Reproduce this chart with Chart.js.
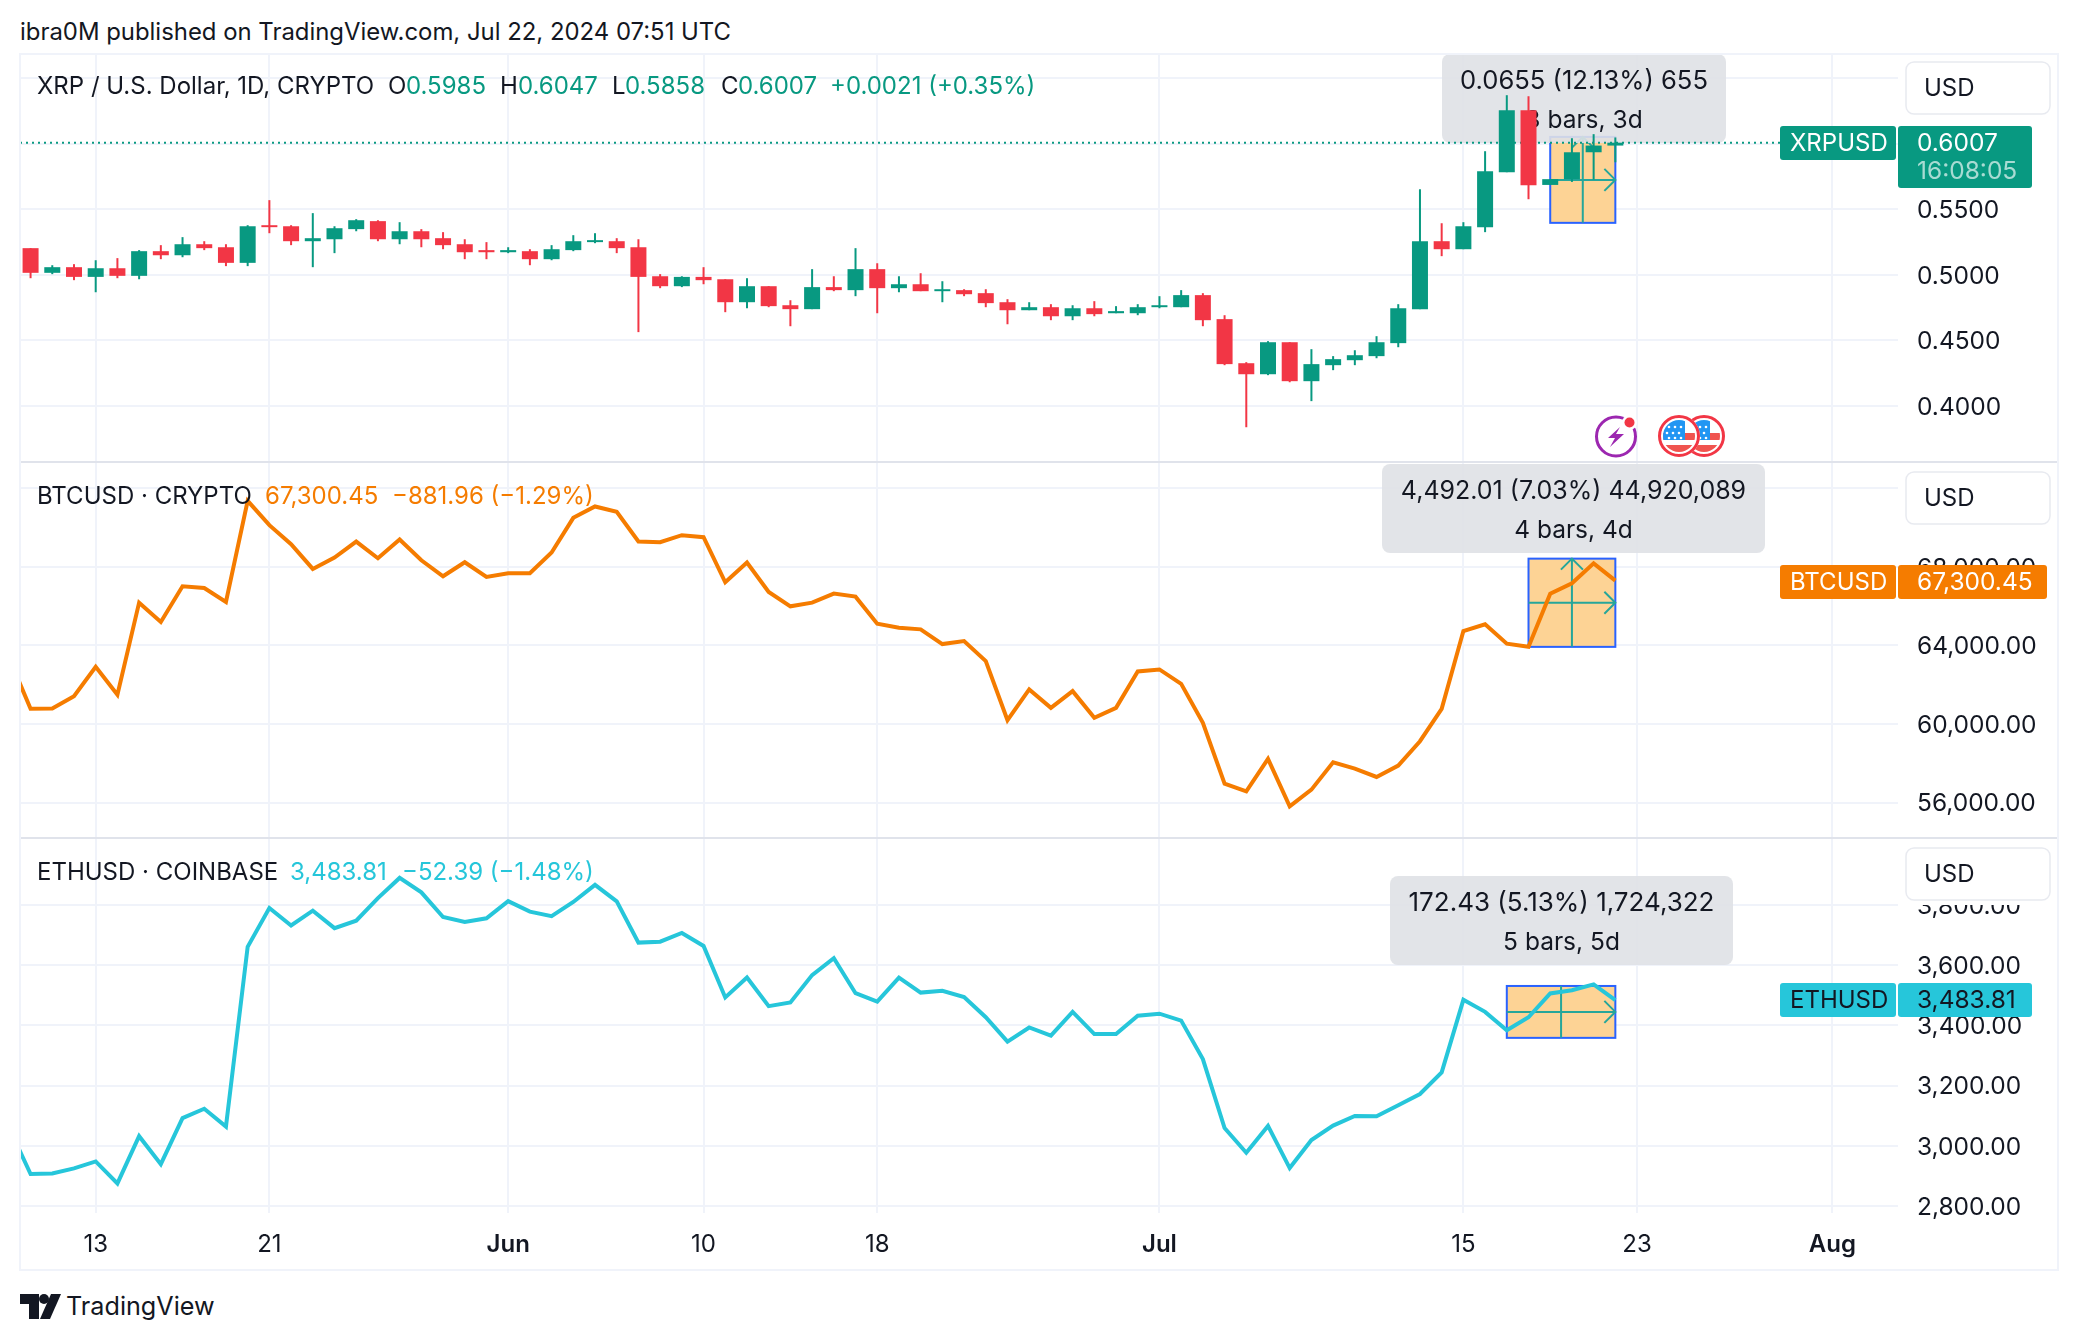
<!DOCTYPE html>
<html>
<head>
<meta charset="utf-8">
<title>XRP / BTC / ETH</title>
<script src="https://cdn.jsdelivr.net/npm/chart.js@4"></script>
<style>
  html, body { margin: 0; background: #fff; }
  body { width: 2078px; height: 1340px; position: relative; overflow: hidden; font-family: Inter, sans-serif; color: #131722; }
  canvas { position: absolute; left: 20px; }
  .line { position: absolute; }
  #head { position: absolute; left: 20px; top: 17px; font-size: 23.9px; line-height: 30px; white-space: nowrap; }
  #brand { position: absolute; left: 66px; top: 1291px; font-size: 25.2px; line-height: 30px; white-space: nowrap; }
  #logo { position: absolute; left: 20px; top: 1294px; }
</style>
</head>
<body>
<div id="head">ibra0M published on TradingView.com, Jul 22, 2024 07:51 UTC</div>
<canvas id="xrpChart" width="2038" height="408" style="top:54px"></canvas>
<canvas id="btcChart" width="2038" height="376" style="top:462px"></canvas>
<canvas id="ethChart" width="2038" height="432" style="top:838px"></canvas>
<div class="line" style="left:20px;top:53px;width:2038px;height:2px;background:#f0f3fa"></div>
<div class="line" style="left:20px;top:461px;width:2038px;height:2px;background:#e0e3eb"></div>
<div class="line" style="left:20px;top:837px;width:2038px;height:2px;background:#e0e3eb"></div>
<div class="line" style="left:20px;top:1269px;width:2038px;height:2px;background:#f0f3fa"></div>
<div class="line" style="left:19px;top:53px;width:2px;height:1218px;background:#f0f3fa"></div>
<div class="line" style="left:2057px;top:53px;width:2px;height:1218px;background:#f0f3fa"></div>
<svg id="logo" width="42" height="26" viewBox="0 0 42 26">
  <path d="M0 0H19V25H9V10H0Z" fill="#131722"/>
  <circle cx="24" cy="5" r="5" fill="#131722"/>
  <path d="M31 0H41L30 25H20Z" fill="#131722"/>
</svg>
<div id="brand">TradingView</div>
<script>
var dates = ["May 9","May 10","May 11","May 12","May 13","May 14","May 15","May 16","May 17","May 18","May 19","May 20","May 21","May 22","May 23","May 24","May 25","May 26","May 27","May 28","May 29","May 30","May 31",
  "Jun 1","Jun 2","Jun 3","Jun 4","Jun 5","Jun 6","Jun 7","Jun 8","Jun 9","Jun 10","Jun 11","Jun 12","Jun 13","Jun 14","Jun 15","Jun 16","Jun 17","Jun 18","Jun 19","Jun 20","Jun 21","Jun 22","Jun 23","Jun 24","Jun 25","Jun 26","Jun 27","Jun 28","Jun 29","Jun 30",
  "Jul 1","Jul 2","Jul 3","Jul 4","Jul 5","Jul 6","Jul 7","Jul 8","Jul 9","Jul 10","Jul 11","Jul 12","Jul 13","Jul 14","Jul 15","Jul 16","Jul 17","Jul 18","Jul 19","Jul 20","Jul 21","Jul 22"];

// XRP candles start one day later than the two line series
var xrpOpen = [.5203,.5015,.5058,.4984,.5050,.4992,.5180,.5149,.5233,.5210,.5091,.5378,.5370,.5256,.5271,.5348,.5409,.5271,.5332,.5279,.5233,.5188,
  .5172,.5180,.5119,.5188,.5249,.5256,.5210,.4989,.4913,.4984,.4966,.4791,.4913,.4768,.4738,.4906,.4883,.5043,.4898,.4928,.4875,.4883,.4860,.4791,.4730,.4753,.4684,.4745,.4707,.4707,
  .4753,.4753,.4845,.4662,.4326,.4242,.4486,.4189,.4311,.4349,.4380,.4479,.4738,.5256,.5195,.5363,.5782,.6255,.5685,.5729,.5934,.5985];
var xrpHigh = [.5203,.5073,.5081,.5111,.5127,.5188,.5226,.5287,.5256,.5233,.5378,.5569,.5378,.5470,.5370,.5424,.5416,.5401,.5348,.5325,.5271,.5249,
  .5210,.5195,.5226,.5302,.5317,.5279,.5271,.5005,.4989,.5058,.4966,.4974,.4913,.4806,.5043,.4989,.5203,.5088,.4989,.5012,.4951,.4890,.4890,.4814,.4791,.4776,.4768,.4799,.4761,.4776,
  .4837,.4883,.4860,.4692,.4334,.4494,.4486,.4433,.4380,.4425,.4532,.4776,.5652,.5393,.5401,.5942,.6369,.6361,.5729,.6041,.6072,.6047];
var xrpLow = [.4974,.5005,.4959,.4867,.4974,.4966,.5119,.5134,.5188,.5066,.5066,.5317,.5226,.5058,.5165,.5332,.5256,.5233,.5210,.5195,.5119,.5119,
  .5165,.5073,.5111,.5180,.5241,.5165,.4563,.4898,.4906,.4928,.4715,.4745,.4753,.4608,.4738,.4875,.4837,.4707,.4867,.4875,.4791,.4837,.4753,.4623,.4730,.4654,.4654,.4684,.4707,.4692,
  .4745,.4753,.4608,.4311,.3838,.4235,.4181,.4037,.4273,.4311,.4364,.4448,.4738,.5142,.5195,.5325,.5782,.5576,.5685,.5708,.5726,.5858];
var xrpClose = [.5015,.5058,.4984,.5050,.4992,.5180,.5149,.5233,.5203,.5091,.5370,.5363,.5256,.5279,.5355,.5416,.5271,.5332,.5271,.5226,.5172,.5172,
  .5188,.5119,.5195,.5256,.5264,.5203,.4984,.4913,.4984,.4959,.4791,.4913,.4761,.4738,.4906,.4883,.5043,.4898,.4928,.4875,.4890,.4852,.4784,.4730,.4753,.4684,.4745,.4700,.4723,.4753,
  .4768,.4845,.4654,.4319,.4242,.4486,.4189,.4319,.4357,.4387,.4486,.4745,.5256,.5195,.5370,.5790,.6255,.5683,.5729,.5934,.5985,.6007];

var btcClose = [63400,60775,60790,61421,62917,61489,66181,65195,67014,66929,66215,71366,70125,69156,67898,68476,69292,68442,69394,68340,67524,68238,67490,
  67677,67677,68731,70499,71077,70805,69292,69258,69615,69513,67218,68221,66725,65994,66181,66640,66487,65110,64906,64821,64073,64226,63206,60197,61761,60826,61676,60316,60826,62679,
  62781,62050,60061,56967,56576,58225,55811,56661,58055,57732,57307,57885,59126,60775,64736,65076,64090,63937,66640,67167,68182.41,67300.45];

var ethClose = [3061,2906,2908,2925,2948,2875,3032,2939,3092,3123,3064,3661,3790,3732,3781,3723,3748,3823,3890,3842,3760,3744,3756,
  3813,3778,3763,3810,3867,3812,3675,3678,3707,3664,3493,3559,3464,3476,3567,3623,3507,3479,3559,3509,3515,3494,3427,3346,3393,3366,3445,3371,3371,3432,
  3439,3416,3288,3059,2977,3066,2926,3019,3067,3099,3098,3135,3172,3244,3485,3445,3384,3427,3506,3517,3536.20,3483.81];

var xTickDates = ["May 13","May 21","Jun 1","Jun 10","Jun 18","Jul 1","Jul 15","Jul 23","Aug 1"];
var xTickLabels = ["13","21","Jun","10","18","Jul","15","23","Aug"];
var xrpTicks = [0.40,0.45,0.50,0.55,0.60,0.65];
var btcTicks = [56000,60000,64000,68000,72000];
var ethTicks = [2800,3000,3200,3400,3600,3800];

var UP = "#089981", DOWN = "#f23645", BTC = "#f57c00", ETH = "#26c6da", INK = "#131722", GRID = "#f0f3fa";
var FONT = "Inter, sans-serif";
var AXIS_W = 160, X_MIN = -3.487, X_MAX = 83.02;

// days counted from May 13, the first labelled tick
function dayOf(label) {
  var parts = label.split(" ");
  return {May: 0, Jun: 31, Jul: 61, Aug: 92}[parts[0]] + parseInt(parts[1]) - 13;
}
function money(v) {
  return v.toLocaleString("en-US", {minimumFractionDigits: 2, maximumFractionDigits: 2});
}
function linePoints(values) {
  return values.map(function (v, i) { return {x: dayOf(dates[i]), y: v}; });
}

function xAxis(showLabels) {
  return {
    type: "linear", min: X_MIN, max: X_MAX, offset: false,
    afterBuildTicks: function (s) { s.ticks = xTickDates.map(function (d) { return {value: dayOf(d)}; }); },
    afterFit: function (s) {
      s.height = showLabels ? 57 : 0;
      s.paddingLeft = s.paddingRight = 0;
    },
    border: {display: false},
    // bar charts default to offset grid lines, these must sit on the ticks
    grid: {color: GRID, lineWidth: 2, drawTicks: false, offset: false},
    ticks: {
      display: showLabels, autoSkip: false, maxRotation: 0, padding: 17, color: INK,
      font: function (c) {
        var bold = c.tick && isNaN(parseInt(xTickLabels[c.index]));
        return {family: FONT, size: 24, weight: bold ? "600" : "400"};
      },
      callback: function (v, i) { return xTickLabels[i]; }
    }
  };
}
function yAxis(lo, hi, ticks, format) {
  return {
    type: "linear", position: "right", min: lo, max: hi,
    afterBuildTicks: function (s) { s.ticks = ticks.map(function (v) { return {value: v}; }); },
    afterFit: function (s) {
      s.width = AXIS_W;
      s.paddingTop = s.paddingBottom = 0;
    },
    border: {display: false},
    grid: {color: GRID, lineWidth: 2, drawTicks: false},
    ticks: {padding: 19, labelOffset: 1.5, color: INK, font: {family: FONT, size: 24.5}, callback: format}
  };
}

function text(ctx, str, x, y, color, align, size) {
  ctx.font = (size || 24) + "px " + FONT;
  ctx.fillStyle = color;
  ctx.textAlign = align || "left";
  ctx.textBaseline = "middle";
  ctx.fillText(str, x, y);
}
function tag(ctx, x, y, w, h, color) {
  ctx.fillStyle = color;
  ctx.beginPath();
  ctx.roundRect(x, y, w, h, 3);
  ctx.fill();
}

// measure box with arrows and its grey read-out, all under the data
function measurePlugin(m, top) {
  return {
    id: "measure",
    beforeDatasetsDraw: function (chart) {
      var ctx = chart.ctx, sx = chart.scales.x, sy = chart.scales.y;
      var x0 = sx.getPixelForValue(dayOf(m.from)), x1 = sx.getPixelForValue(dayOf(m.to));
      var y0 = sy.getPixelForValue(m.hi), y1 = sy.getPixelForValue(m.lo);
      var cx = (x0 + x1) / 2, cy = (y0 + y1) / 2;
      ctx.save();
      ctx.fillStyle = "#fdd395";
      ctx.fillRect(x0, y0, x1 - x0, y1 - y0);
      ctx.strokeStyle = "#2962ff";
      ctx.lineWidth = 2;
      ctx.strokeRect(x0, y0, x1 - x0, y1 - y0);
      ctx.strokeStyle = "#26a69a";
      ctx.beginPath();
      ctx.moveTo(cx, y1); ctx.lineTo(cx, y0);
      ctx.moveTo(x0, cy); ctx.lineTo(x1, cy);
      ctx.moveTo(x1 - 11, cy - 11); ctx.lineTo(x1, cy); ctx.lineTo(x1 - 11, cy + 11);
      if (m.upHead) { ctx.moveTo(cx - 11, y0 + 11); ctx.lineTo(cx, y0); ctx.lineTo(cx + 11, y0 + 11); }
      ctx.stroke();

      ctx.translate(-20, -top);
      ctx.fillStyle = "rgba(223,225,230,0.9)";
      ctx.beginPath();
      ctx.roundRect(m.boxX, m.boxY, m.boxW, 89, 8);
      ctx.fill();
      var mid = m.boxX + m.boxW / 2;
      text(ctx, m.line1, mid, m.boxY + 27, INK, "center", m.size);
      text(ctx, m.line2, mid, m.boxY + 67, INK, "center", 24.5);
      ctx.restore();
    }
  };
}

// legend, USD button and last-price labels sit on top of everything
function overlayPlugin(o, top) {
  return {
    id: "overlay",
    afterDraw: function (chart) {
      var ctx = chart.ctx;
      ctx.save();
      ctx.translate(-20, -top);
      o.legend.forEach(function (l) { text(ctx, l[0], l[1], o.legendY, l[2]); });

      ctx.fillStyle = "#fff";
      ctx.fillRect(1900, o.usdY - 8, 156, 65);
      ctx.strokeStyle = "#e8eaf0";
      ctx.lineWidth = 1.5;
      ctx.beginPath();
      ctx.roundRect(1906, o.usdY, 144, 52, 8);
      ctx.stroke();
      text(ctx, "USD", 1924, o.usdY + 26.5, INK);

      tag(ctx, 1780, o.tagY, 116, 34, o.color);
      tag(ctx, 1898, o.tagY, o.tagW, o.tagH || 34, o.color);
      text(ctx, o.name, 1790, o.tagY + 17.5, o.tagInk);
      text(ctx, o.price, 1917, o.tagY + 17.5, o.tagInk, "left", 24.5);
      if (o.timer) text(ctx, o.timer, 1917, o.tagY + 45.5, "rgba(255,255,255,0.65)", "left", 24.5);
      if (o.extra) o.extra(ctx);
      ctx.restore();
    }
  };
}

function flag(ctx, cx, cy) {
  ctx.save();
  ctx.fillStyle = "#fff";
  ctx.beginPath(); ctx.arc(cx, cy, 21, 0, Math.PI * 2); ctx.fill();
  ctx.beginPath(); ctx.arc(cx, cy, 16, 0, Math.PI * 2); ctx.clip();
  ctx.fillStyle = "#f0544f";
  ctx.fillRect(cx - 16, cy - 3, 32, 7);
  ctx.fillRect(cx - 16, cy + 9, 32, 8);
  ctx.fillStyle = "#2196f3";
  ctx.fillRect(cx - 16, cy - 16, 22, 20);
  ctx.fillStyle = "#fff";
  [[-10,-9],[-4,-9],[2,-9],[-12,-3],[-6,-3],[0,-3],[-10,2],[-4,2],[2,2]].forEach(function (s) {
    ctx.beginPath(); ctx.arc(cx + s[0], cy + s[1], 1.3, 0, Math.PI * 2); ctx.fill();
  });
  ctx.restore();
  ctx.strokeStyle = "#f23645";
  ctx.lineWidth = 3;
  ctx.beginPath(); ctx.arc(cx, cy, 19.5, 0, Math.PI * 2); ctx.stroke();
}
function eventIcons(ctx) {
  ctx.strokeStyle = "#9c27b0";
  ctx.lineWidth = 3;
  ctx.beginPath(); ctx.arc(1616, 436.5, 19.5, 0, Math.PI * 2); ctx.stroke();
  ctx.fillStyle = "#fff";
  ctx.beginPath(); ctx.arc(1629.5, 422.5, 7.5, 0, Math.PI * 2); ctx.fill();
  ctx.fillStyle = "#f23645";
  ctx.beginPath(); ctx.arc(1629.5, 422.5, 5, 0, Math.PI * 2); ctx.fill();
  ctx.fillStyle = "#9c27b0";
  ctx.beginPath();
  ctx.moveTo(1620, 427); ctx.lineTo(1608, 438); ctx.lineTo(1615, 438); ctx.lineTo(1610, 447);
  ctx.lineTo(1624, 434); ctx.lineTo(1616, 434);
  ctx.closePath(); ctx.fill();
  flag(ctx, 1704, 436);
  flag(ctx, 1679, 436);
}

var xrpDates = dates.slice(1);
var candleColors = xrpClose.map(function (c, i) { return c >= xrpOpen[i] ? UP : DOWN; });

new Chart(document.getElementById("xrpChart"), {
  type: "bar",
  data: {
    datasets: [
      {
        label: "Body", order: 0, grouped: false, barThickness: 16, inflateAmount: 0,
        backgroundColor: candleColors,
        data: xrpDates.map(function (d, i) { return {x: dayOf(d), y: [xrpOpen[i], xrpClose[i]]}; })
      },
      {
        label: "Wick", order: 1, grouped: false, barThickness: 2, inflateAmount: 0,
        backgroundColor: candleColors,
        data: xrpDates.map(function (d, i) { return {x: dayOf(d), y: [xrpLow[i], xrpHigh[i]]}; })
      },
      {
        type: "line", label: "Last", order: 2, borderColor: UP, borderWidth: 2, borderDash: [2, 4], pointRadius: 0,
        data: [{x: X_MIN, y: xrpClose[73]}, {x: X_MAX, y: xrpClose[73]}]
      }
    ]
  },
  options: {
    responsive: false, animation: false, devicePixelRatio: 1,
    layout: {padding: 0},
    plugins: {legend: {display: false}, tooltip: {enabled: false}},
    scales: {
      x: xAxis(false),
      y: yAxis(0.3573, 0.6683, xrpTicks, function (v) { return v.toFixed(4); })
    }
  },
  plugins: [
    measurePlugin({from: "Jul 19", to: "Jul 22", lo: 0.5396, hi: 0.6051, upHead: true, boxX: 1442, boxY: 54, boxW: 284, size: 25.6,
      line1: "0.0655 (12.13%) 655", line2: "3 bars, 3d"}, 54),
    overlayPlugin({
      legendY: 87, usdY: 62, tagY: 126, tagW: 134, tagH: 62, color: UP, tagInk: "#fff",
      name: "XRPUSD", price: "0.6007", timer: "16:08:05", extra: eventIcons,
      legend: [["XRP / U.S. Dollar, 1D, CRYPTO", 37, INK], ["O", 388, INK], ["0.5985", 406, UP], ["H", 500, INK], ["0.6047", 518, UP],
        ["L", 612, INK], ["0.5858", 625, UP], ["C", 721, INK], ["0.6007", 738, UP], ["+0.0021 (+0.35%)", 830, UP]]
    }, 54)
  ]
});

new Chart(document.getElementById("btcChart"), {
  type: "line",
  data: {
    datasets: [{label: "BTCUSD", data: linePoints(btcClose), borderColor: BTC, borderWidth: 4, pointRadius: 0, tension: 0}]
  },
  options: {
    responsive: false, animation: false, devicePixelRatio: 1,
    layout: {padding: 0},
    plugins: {legend: {display: false}, tooltip: {enabled: false}},
    scales: {
      x: xAxis(false),
      y: yAxis(54199, 73342, btcTicks, function (v) { return money(v); })
    }
  },
  plugins: [
    measurePlugin({from: "Jul 18", to: "Jul 22", lo: 63930, hi: 68422, upHead: true, boxX: 1382, boxY: 464, boxW: 383, size: 25,
      line1: "4,492.01 (7.03%) 44,920,089", line2: "4 bars, 4d"}, 462),
    overlayPlugin({
      legendY: 497, usdY: 472, tagY: 565, tagW: 149, color: BTC, tagInk: "#fff",
      name: "BTCUSD", price: "67,300.45",
      legend: [["BTCUSD · CRYPTO", 37, INK], ["67,300.45", 265, BTC], ["−881.96 (−1.29%)", 392, BTC]]
    }, 462)
  ]
});

new Chart(document.getElementById("ethChart"), {
  type: "line",
  data: {
    datasets: [{label: "ETHUSD", data: linePoints(ethClose), borderColor: ETH, borderWidth: 4, pointRadius: 0, tension: 0}]
  },
  options: {
    responsive: false, animation: false, devicePixelRatio: 1,
    layout: {padding: 0},
    plugins: {legend: {display: false}, tooltip: {enabled: false}},
    scales: {
      x: xAxis(true),
      y: yAxis(2776.7, 4022.6, ethTicks, function (v) { return money(v); })
    }
  },
  plugins: [
    measurePlugin({from: "Jul 17", to: "Jul 22", lo: 3358.6, hi: 3531, upHead: false, boxX: 1390, boxY: 876, boxW: 343, size: 26,
      line1: "172.43 (5.13%) 1,724,322", line2: "5 bars, 5d"}, 838),
    overlayPlugin({
      legendY: 873, usdY: 848, tagY: 983, tagW: 134, color: ETH, tagInk: INK,
      name: "ETHUSD", price: "3,483.81",
      legend: [["ETHUSD · COINBASE", 37, INK], ["3,483.81", 290, ETH], ["−52.39 (−1.48%)", 402, ETH]]
    }, 838)
  ]
});
</script>
</body>
</html>
